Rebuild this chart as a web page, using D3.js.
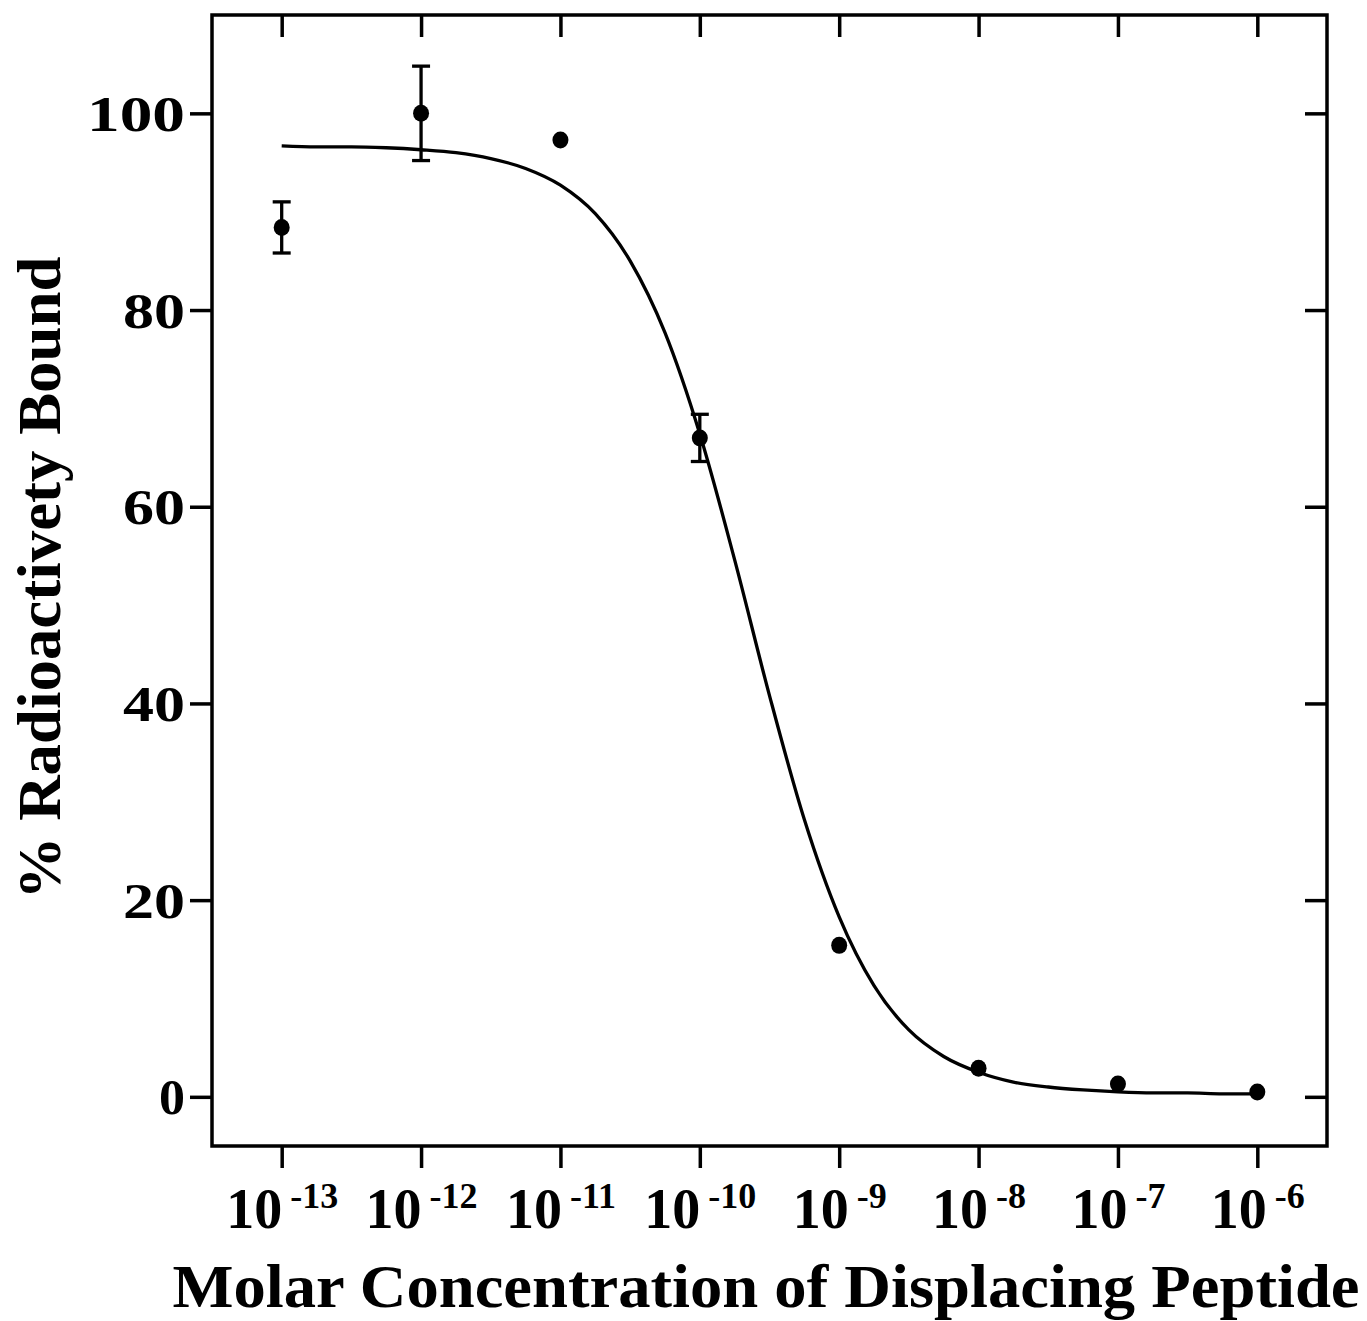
<!DOCTYPE html>
<html>
<head>
<meta charset="utf-8">
<script src="https://cdn.jsdelivr.net/npm/d3@7"></script>
<style>
  body { margin: 0; background: #fff; }
  text { font-family: "Liberation Serif", "Times New Roman", serif; font-weight: bold; fill: #000; }
</style>
</head>
<body>
<div id="chart"></div>
<script>
// measured points (mean % bound, +/- error)
const concentrations = [1e-13, 1e-12, 1e-11, 1e-10, 1e-9, 1e-8, 1e-7, 1e-6];
const boundPct = [88.4, 100.0, 97.3, 67.0, 15.4, 2.9, 1.3, 0.5];
const boundErr = [2.6, 4.8, 0, 2.4, 0, 0, 0, 0];

// fitted curve, every quarter decade
const curveLogConc = [-13, -12.75, -12.5, -12.25, -12, -11.75, -11.5, -11.25, -11,
  -10.75, -10.5, -10.25, -10, -9.75, -9.5, -9.25, -9, -8.75, -8.5, -8.25, -8,
  -7.75, -7.5, -7.25, -7, -6.75, -6.5, -6.25, -6];
const curvePct = [96.7, 96.6, 96.6, 96.5, 96.3, 96.0, 95.4, 94.4, 92.7,
  89.8, 85.0, 77.7, 67.4, 54.6, 40.8, 28.2, 18.3, 11.3, 6.8, 4.1, 2.5,
  1.5, 1.0, 0.7, 0.5, 0.4, 0.4, 0.3, 0.3];

const yTicks = [0, 20, 40, 60, 80, 100];
const xTickExp = [-13, -12, -11, -10, -9, -8, -7, -6];

const MARGIN = { LEFT: 212, RIGHT: 40, TOP: 15, BOTTOM: 175 };
const WIDTH = 1367 - MARGIN.LEFT - MARGIN.RIGHT;
const HEIGHT = 1321 - MARGIN.TOP - MARGIN.BOTTOM;
const TICK = 22;

const svg = d3.select("#chart").append("svg")
    .attr("width", 1367)
    .attr("height", 1321);

const g = svg.append("g")
    .attr("transform", `translate(${MARGIN.LEFT}, ${MARGIN.TOP})`);

const x = d3.scaleLog()
    .domain([Math.pow(10, -13.5), Math.pow(10, -5.5)])
    .range([0, WIDTH]);

const y = d3.scaleLinear()
    .domain([-5, 110])
    .range([HEIGHT, 0]);

const xTicks = xTickExp.map(e => Math.pow(10, e));

// axes: outer ticks bottom/left, inner ticks top/right
const xBottom = g.append("g")
    .attr("transform", `translate(0, ${HEIGHT})`)
    .call(d3.axisBottom(x).tickValues(xTicks).tickSize(TICK).tickSizeOuter(0).tickFormat(""));
const xTop = g.append("g")
    .call(d3.axisTop(x).tickValues(xTicks).tickSize(-TICK).tickSizeOuter(0).tickFormat(""));
const yLeft = g.append("g")
    .call(d3.axisLeft(y).tickValues(yTicks).tickSize(TICK).tickSizeOuter(0).tickPadding(5));
const yRight = g.append("g")
    .attr("transform", `translate(${WIDTH}, 0)`)
    .call(d3.axisRight(y).tickValues(yTicks).tickSize(-TICK).tickSizeOuter(0).tickFormat(""));

g.selectAll(".domain").remove();
g.selectAll(".tick line").attr("stroke", "#000").attr("stroke-width", 3.5);

// the original lettering is wider than the font, so stretch it
yLeft.selectAll(".tick text")
    .attr("font-size", "50px")
    .attr("font-family", "Liberation Serif")
    .attr("font-weight", "bold")
    .attr("dy", "0.34em")
    .attr("textLength", d => String(d).length * 36 - 10)
    .attr("lengthAdjust", "spacingAndGlyphs");

// x tick labels 10^n with superscript
xBottom.selectAll(".tick").each(function(d) {
    const t = d3.select(this).append("text")
        .attr("y", 1228 - MARGIN.TOP - HEIGHT)
        .attr("text-anchor", "middle")
        .attr("font-size", "56px");
    t.append("tspan").text("10");
    t.append("tspan")
        .attr("dx", 8)
        .attr("dy", -20)
        .attr("font-size", "36px")
        .text(String(Math.round(Math.log10(d))));
});

// frame
g.append("rect")
    .attr("x", 0).attr("y", 0)
    .attr("width", WIDTH).attr("height", HEIGHT)
    .attr("fill", "none")
    .attr("stroke", "#000")
    .attr("stroke-width", 3.5);

// fitted curve
const line = d3.line()
    .x((d, i) => x(Math.pow(10, curveLogConc[i])))
    .y(d => y(d))
    .curve(d3.curveMonotoneX);

g.append("path")
    .datum(curvePct)
    .attr("d", line)
    .attr("fill", "none")
    .attr("stroke", "#000")
    .attr("stroke-width", 3.3);

const pts = concentrations.map((c, i) => ({ c: c, v: boundPct[i], e: boundErr[i] }));

// error bars
const eb = g.selectAll(".err")
    .data(pts.filter(d => d.e > 0))
    .enter().append("g")
    .attr("class", "err")
    .attr("stroke", "#000")
    .attr("stroke-width", 3.3);
eb.append("line")
    .attr("x1", d => x(d.c)).attr("x2", d => x(d.c))
    .attr("y1", d => y(d.v - d.e)).attr("y2", d => y(d.v + d.e));
eb.append("line")
    .attr("x1", d => x(d.c) - 9).attr("x2", d => x(d.c) + 9)
    .attr("y1", d => y(d.v + d.e)).attr("y2", d => y(d.v + d.e));
eb.append("line")
    .attr("x1", d => x(d.c) - 9).attr("x2", d => x(d.c) + 9)
    .attr("y1", d => y(d.v - d.e)).attr("y2", d => y(d.v - d.e));

g.selectAll(".dot")
    .data(pts)
    .enter().append("ellipse")
    .attr("class", "dot")
    .attr("cx", d => x(d.c))
    .attr("cy", d => y(d.v))
    .attr("rx", 8)
    .attr("ry", 8.5)
    .attr("fill", "#000");

// axis titles
svg.append("text")
    .attr("x", 766)
    .attr("y", 1307)
    .attr("text-anchor", "middle")
    .attr("font-size", "62px")
    .attr("textLength", 1187)
    .attr("lengthAdjust", "spacingAndGlyphs")
    .text("Molar Concentration of Displacing Peptide");

svg.append("text")
    .attr("transform", "translate(60, 578) rotate(-90)")
    .attr("text-anchor", "middle")
    .attr("font-size", "62px")
    .attr("textLength", 643)
    .attr("lengthAdjust", "spacingAndGlyphs")
    .text("% Radioactivety Bound");
</script>
</body>
</html>
